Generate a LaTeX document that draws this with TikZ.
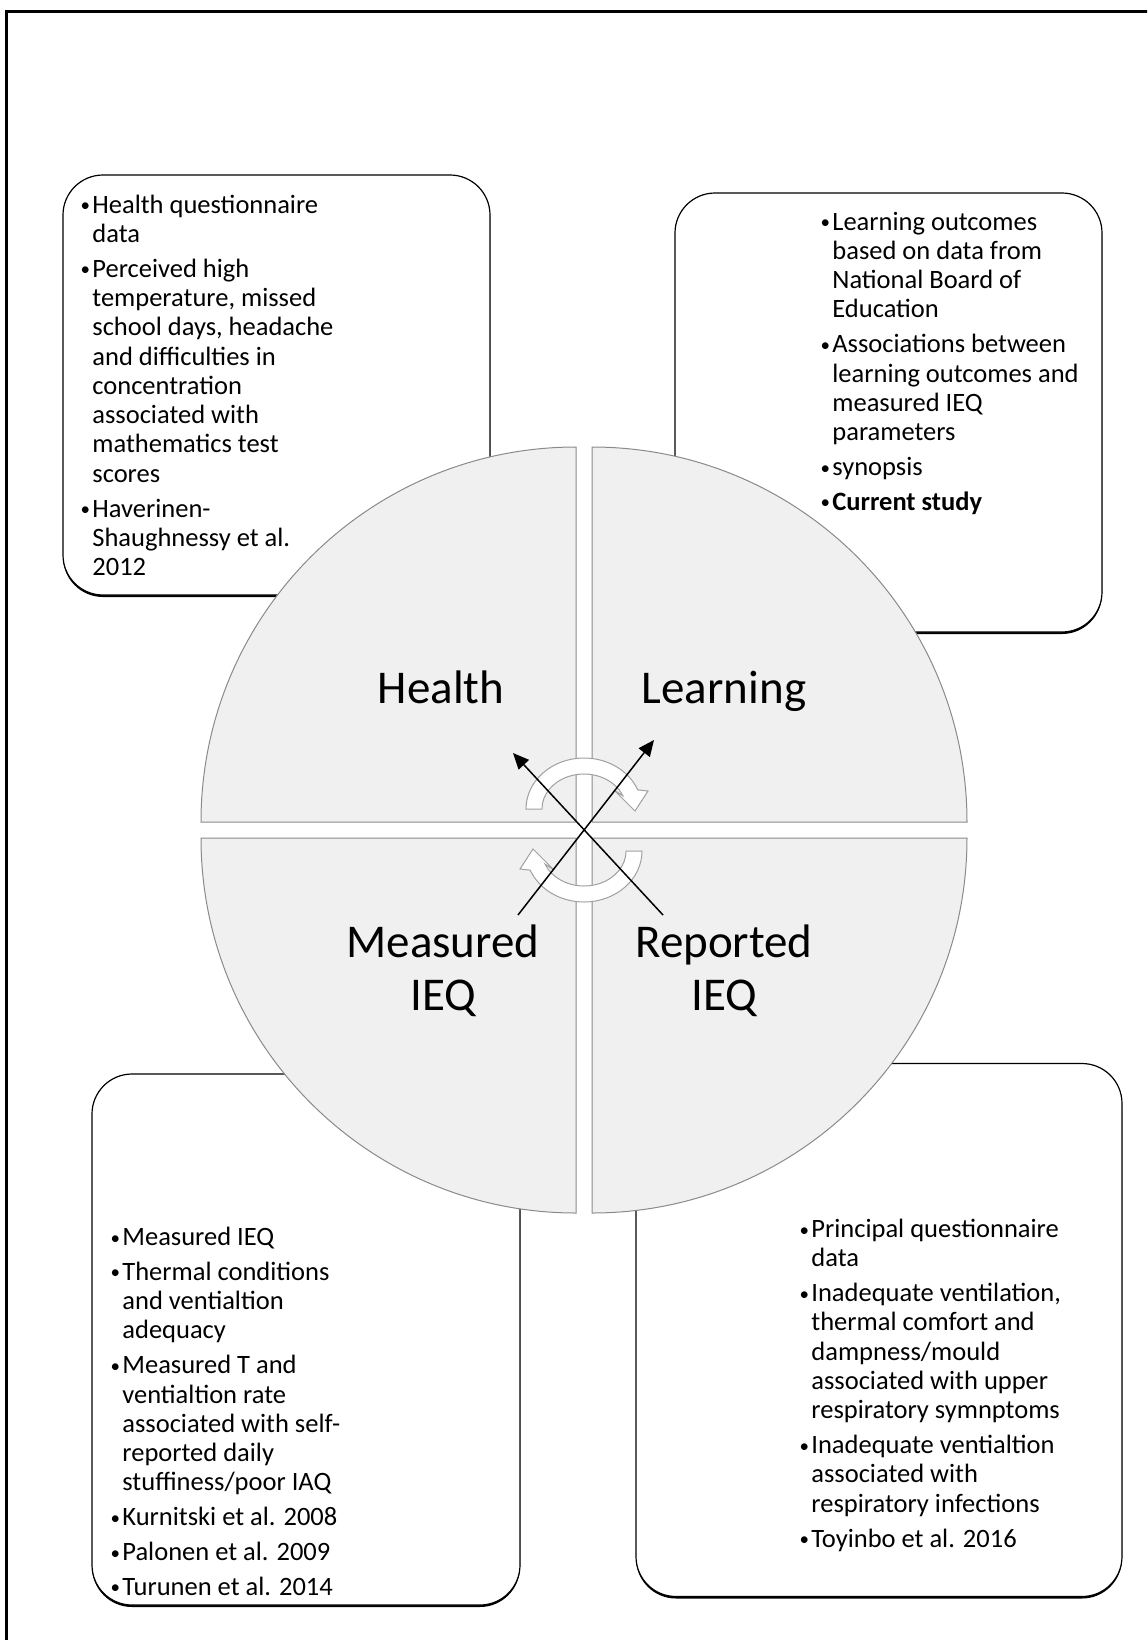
\documentclass[tikz,border=0pt]{standalone}
\usepackage{fontspec}
\setmainfont{Carlito}
\usetikzlibrary{arrows.meta,shadows}
\definecolor{quadfill}{HTML}{F0F0F0}
\definecolor{quadline}{HTML}{8A8A8A}
\definecolor{ringline}{HTML}{A0A0A0}
\newlength\itmgap
\newcommand{\bline}[1]{\hbox{#1}}
\newcommand{\bitem}[1]{\hbox{\llap{\raisebox{0.7pt}{\fontsize{9.5pt}{9.5pt}\selectfont\textbullet}\kern1.1pt}#1}}
\newcommand{\bgap}{\vskip\itmgap}
\newcommand{\bodytext}[3]{\vtop{\baselineskip=#1\lineskiplimit=-30pt\lineskip=0pt\itmgap=#2\relax #3}}
\newcommand{\twolines}[2]{\vtop{\baselineskip=26.5pt\lineskiplimit=-30pt\halign{\hfil##\hfil\cr #1\cr #2\cr}}}
\begin{document}
\begin{tikzpicture}[x=0.5pt,y=-0.5pt,
  infobox/.style={draw=black,line width=0.6pt,fill=white,rounded corners=20pt,inner sep=0pt,
    general shadow={shadow yshift=-1pt,fill=black}},
  quad/.style={fill=quadfill,draw=quadline,line width=0.5pt},
  ring/.style={fill=white,draw=ringline,line width=0.5pt},
  bodytxt/.style={inner sep=0pt,anchor=base west,font=\fontsize{13.25pt}{14.65pt}\selectfont},
  qlabel/.style={inner sep=0pt,anchor=base,font=\fontsize{23.5pt}{26.5pt}\selectfont},
  conn/.style={line width=0.75pt,-{Triangle[length=8pt,width=7pt]}}]
\useasboundingbox (0,0) rectangle (1147,1640);
\clip (0,0) rectangle (1147,1640);
% outer frame
\draw[line width=1.6pt] (6.5,1700) -- (6.5,11.7) -- (1200,11.7);
% information boxes
\node[infobox,minimum width=213.5pt,minimum height=210pt] (hbox) at (276.5,385) {};
\node[infobox,minimum width=213.5pt,minimum height=219.5pt] (lbox) at (888.5,412.5) {};
\node[infobox,minimum width=214pt,minimum height=265.5pt] (mbox) at (306,1339.5) {};
\node[infobox,minimum width=243pt,minimum height=266.5pt] (rbox) at (879,1330) {};
% box texts
\node[bodytxt] (htxt) at (92,213) {\bodytext{14.65pt}{2.75pt}{%
\bitem{Health questionnaire}\bline{data}\bgap
\bitem{Perceived high}\bline{temperature, missed}\bline{school days, headache}\bline{and difficulties in}\bline{concentration}\bline{associated with}\bline{mathematics test}\bline{scores}\bgap
\bitem{Haverinen-}\bline{Shaughnessy et al.}\bline{2012}}};
\node[bodytxt] (ltxt) at (832,230) {\bodytext{14.65pt}{2.75pt}{%
\bitem{Learning outcomes}\bline{based on data from}\bline{National Board of}\bline{Education}\bgap
\bitem{Associations between}\bline{learning outcomes and}\bline{measured IEQ}\bline{parameters}\bgap
\bitem{synopsis}\bgap
\bitem{\bfseries Current study}}};
\node[bodytxt] (mtxt) at (122,1245.5) {\bodytext{14.65pt}{2.75pt}{%
\bitem{Measured IEQ}\bgap
\bitem{Thermal conditions}\bline{and ventialtion}\bline{adequacy}\bgap
\bitem{Measured T and}\bline{ventialtion rate}\bline{associated with self-}\bline{reported daily}\bline{stuffiness/poor IAQ}\bgap
\bitem{Kurnitski et al. 2008}\bgap
\bitem{Palonen et al. 2009}\bgap
\bitem{Turunen et al. 2014}}};
\node[bodytxt] (rtxt) at (811,1237.5) {\bodytext{14.65pt}{2.75pt}{%
\bitem{Principal questionnaire}\bline{data}\bgap
\bitem{Inadequate ventilation,}\bline{thermal comfort and}\bline{dampness/mould}\bline{associated with upper}\bline{respiratory symnptoms}\bgap
\bitem{Inadequate ventialtion}\bline{associated with}\bline{respiratory infections}\bgap
\bitem{Toyinbo et al. 2016}}};
% circle quadrants
\draw[quad] (576,822) -- (201,822) arc[start angle=180,end angle=270,radius=375] -- cycle;
\draw[quad] (592,822) -- (592,447) arc[start angle=270,end angle=360,radius=375] -- cycle;
\draw[quad] (576,838) -- (576,1213) arc[start angle=90,end angle=180,radius=375] -- cycle;
\draw[quad] (592,838) -- (967,838) arc[start angle=0,end angle=90,radius=375] -- cycle;
% quadrant labels
\node[qlabel] (health) at (441,703) {Health};
\node[qlabel] (learning) at (724,703) {Learning};
\node[qlabel] (measured) at (443,957) {\twolines{Measured}{IEQ}};
\node[qlabel] (reported) at (724,957) {\twolines{Reported}{IEQ}};
% circular arrows
\draw[ring] (526,809) arc[start angle=180,end angle=338,x radius=58,y radius=51]
  -- (648,791) -- (635,811) -- (614,790) -- (622.9,795.9)
  arc[start angle=338,end angle=180,x radius=42,y radius=35] -- cycle;
\begin{scope}[rotate around={180:(584,830)}]
\draw[ring] (526,809) arc[start angle=180,end angle=338,x radius=58,y radius=51]
  -- (648,791) -- (635,811) -- (614,790) -- (622.9,795.9)
  arc[start angle=338,end angle=180,x radius=42,y radius=35] -- cycle;
\end{scope}
% crossing arrows
\coordinate (neS) at (518,915);
\coordinate (neE) at (654,740);
\coordinate (nwS) at (663,915);
\coordinate (nwE) at (513,753);
\draw[conn] (neS) -- (neE);
\draw[conn] (nwS) -- (nwE);
\end{tikzpicture}
\end{document}
